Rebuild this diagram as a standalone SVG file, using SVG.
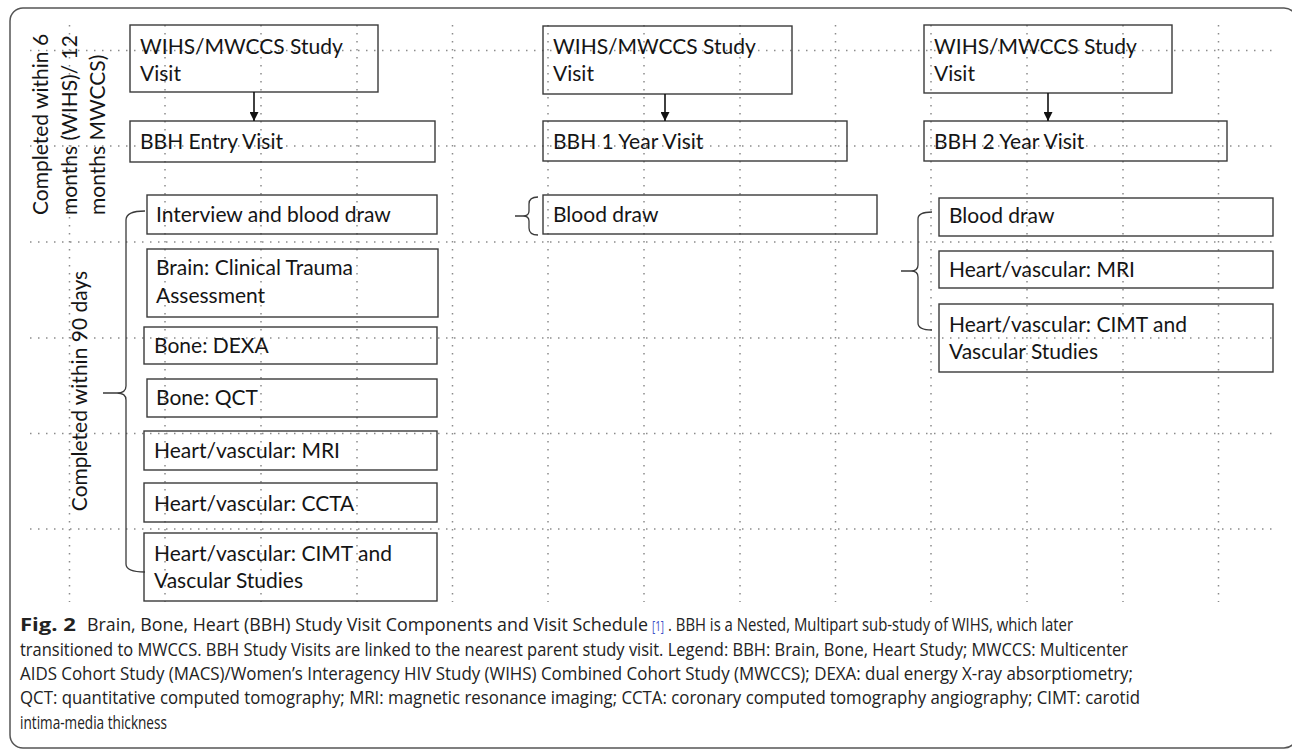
<svg xmlns="http://www.w3.org/2000/svg" width="1292" height="751" viewBox="0 0 1292 751">
<defs>
<style>
.grid{stroke:#8c8c8c;stroke-width:1.5;stroke-dasharray:1.5 6.5;fill:none}
.box{fill:none;stroke:#3a3a3a;stroke-width:1.4}
.t{font-family:Lato,"Open Sans",sans-serif;font-size:21px;fill:#151515}
.br{fill:none;stroke:#3a3a3a;stroke-width:1.3}
.conn{stroke:#111;stroke-width:1.6;fill:none}
.cap{font-family:"Open Sans","Liberation Sans",sans-serif;font-size:17.5px;fill:#222}
.ref{fill:#3a4fc8;font-size:14px}
</style>
<marker id="ah" markerUnits="userSpaceOnUse" markerWidth="9" markerHeight="9" refX="9" refY="4.5" orient="auto">
<path d="M0,0 L9,4.5 L0,9 z" fill="#111"/>
</marker>
</defs>
<rect x="10" y="8" width="1287" height="740" rx="13" fill="#fff" stroke="#555" stroke-width="1.5"/>
<g id="grid">
<path class="grid" d="M30,50.5H1276M30,146H1276M30,242H1276M30,338H1276M30,433.5H1276M30,529H1276"/>
<path class="grid" d="M69.5,25V602M165,25V602M261,25V602M357,25V602M452.5,25V602M548,25V602M644,25V602M740,25V602M835.5,25V602M931,25V602M1027,25V602M1123,25V602M1218.5,25V602"/>
</g>
<g id="label-6months">
<text class="t" transform="translate(48,215) rotate(-90)">Completed within 6</text>
<text class="t" transform="translate(76.5,215) rotate(-90)">months (WIHS)/ 12</text>
<text class="t" transform="translate(105,215) rotate(-90)">months MWCCS)</text>
</g>
<g id="label-90days">
<text class="t" text-anchor="middle" transform="translate(87,391) rotate(-90)">Completed within 90 days</text>
</g>
<g id="c1-study">
<rect class="box" x="130" y="25" width="248" height="67"/>
<text class="t" x="140" y="54">WIHS/MWCCS Study</text>
<text class="t" x="140" y="81">Visit</text>
</g>
<g id="c1-entry">
<rect class="box" x="130" y="121" width="305" height="41"/>
<text class="t" x="140" y="149">BBH Entry Visit</text>
</g>
<g id="c1-interview">
<rect class="box" x="147" y="195" width="290" height="39"/>
<text class="t" x="156" y="222">Interview and blood draw</text>
</g>
<g id="c1-brain">
<rect class="box" x="147" y="249" width="291" height="68"/>
<text class="t" x="156" y="275">Brain: Clinical Trauma</text>
<text class="t" x="156" y="303">Assessment</text>
</g>
<g id="c1-dexa">
<rect class="box" x="144" y="327" width="293" height="37"/>
<text class="t" x="154" y="353">Bone: DEXA</text>
</g>
<g id="c1-qct">
<rect class="box" x="147" y="379" width="290" height="38"/>
<text class="t" x="156" y="405">Bone: QCT</text>
</g>
<g id="c1-mri">
<rect class="box" x="144" y="431" width="293" height="39"/>
<text class="t" x="154" y="458">Heart/vascular: MRI</text>
</g>
<g id="c1-ccta">
<rect class="box" x="144" y="483" width="293" height="39"/>
<text class="t" x="154" y="511">Heart/vascular: CCTA</text>
</g>
<g id="c1-cimt">
<rect class="box" x="144" y="533" width="293" height="68"/>
<text class="t" x="154" y="561">Heart/vascular: CIMT and</text>
<text class="t" x="154" y="588">Vascular Studies</text>
</g>
<g id="c2-study">
<rect class="box" x="543" y="26" width="249" height="68"/>
<text class="t" x="553" y="54">WIHS/MWCCS Study</text>
<text class="t" x="553" y="81">Visit</text>
</g>
<g id="c2-year1">
<rect class="box" x="543" y="121" width="304" height="40"/>
<text class="t" x="553" y="149">BBH 1 Year Visit</text>
</g>
<g id="c2-blood">
<rect class="box" x="543" y="195" width="334" height="39"/>
<text class="t" x="553" y="222">Blood draw</text>
</g>
<g id="c3-study">
<rect class="box" x="924" y="25" width="248" height="68"/>
<text class="t" x="934" y="54">WIHS/MWCCS Study</text>
<text class="t" x="934" y="81">Visit</text>
</g>
<g id="c3-year2">
<rect class="box" x="924" y="121" width="303" height="40"/>
<text class="t" x="934" y="149">BBH 2 Year Visit</text>
</g>
<g id="c3-blood">
<rect class="box" x="939" y="198" width="334" height="38"/>
<text class="t" x="949" y="223">Blood draw</text>
</g>
<g id="c3-mri">
<rect class="box" x="939" y="251" width="334" height="37"/>
<text class="t" x="949" y="277">Heart/vascular: MRI</text>
</g>
<g id="c3-cimt">
<rect class="box" x="939" y="304" width="334" height="68"/>
<text class="t" x="949" y="332">Heart/vascular: CIMT and</text>
<text class="t" x="949" y="359">Vascular Studies</text>
</g>
<g id="connectors">
<line class="conn" x1="254" y1="92" x2="254" y2="121" marker-end="url(#ah)"/>
<line class="conn" x1="665" y1="94" x2="665" y2="121" marker-end="url(#ah)"/>
<line class="conn" x1="1048" y1="93" x2="1048" y2="121" marker-end="url(#ah)"/>
<path class="br" d="M145,211 Q126,211 126,220 L126,386 Q126,393 117,393 L103,393 M117,393 Q126,393 126,400 L126,564 Q126,572 145,572"/>
<path class="br" d="M538,197 Q529,197 529,204 L529,211 Q529,216 523,216 L515,216 M523,216 Q529,216 529,221 L529,228 Q529,235 538,235"/>
<path class="br" d="M932,212 Q918,212 918,219 L918,265 Q918,271 911,271 L901,271 M911,271 Q918,271 918,277 L918,323 Q918,330 932,330"/>
</g>
<g id="caption">
<text class="cap" x="20" y="631" font-weight="bold" textLength="56" lengthAdjust="spacingAndGlyphs">Fig. 2</text>
<text class="cap" x="87" y="631" textLength="561" lengthAdjust="spacingAndGlyphs">Brain, Bone, Heart (BBH) Study Visit Components and Visit Schedule</text>
<text class="cap ref" x="652" y="631" textLength="12" lengthAdjust="spacingAndGlyphs">[1]</text>
<text class="cap" x="668" y="631" textLength="405" lengthAdjust="spacingAndGlyphs">. BBH is a Nested, Multipart sub-study of WIHS, which later</text>
<text class="cap" x="20" y="655.5" textLength="1108" lengthAdjust="spacingAndGlyphs">transitioned to MWCCS. BBH Study Visits are linked to the nearest parent study visit. Legend: BBH: Brain, Bone, Heart Study; MWCCS: Multicenter</text>
<text class="cap" x="20" y="680" textLength="1113" lengthAdjust="spacingAndGlyphs">AIDS Cohort Study (MACS)/Women’s Interagency HIV Study (WIHS) Combined Cohort Study (MWCCS); DEXA: dual energy X-ray absorptiometry;</text>
<text class="cap" x="20" y="704" textLength="1120" lengthAdjust="spacingAndGlyphs">QCT: quantitative computed tomography; MRI: magnetic resonance imaging; CCTA: coronary computed tomography angiography; CIMT: carotid</text>
<text class="cap" x="20" y="728.5" textLength="147" lengthAdjust="spacingAndGlyphs">intima-media thickness</text>
</g>
</svg>
